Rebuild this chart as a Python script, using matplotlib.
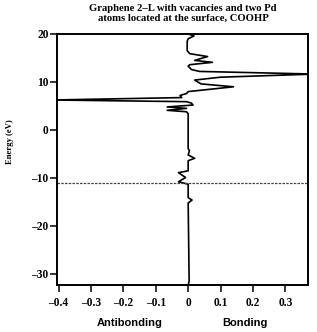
import matplotlib
matplotlib.use("Agg")
import matplotlib.pyplot as plt
import numpy as np

# COOHP curve: energy (eV) and COOHP value
energy = [-32.3, -31.5, -15.2, -14.6, -14.1, -12.5, -11.3, -10.8, -9.9, -8.9, -8.5,
          -6.9, -6.4, -5.9, -5.2, -4.3, -3.9, 3.4, 3.8, 4.1, 4.5, 4.8, 5.2, 5.6,
          5.9, 6.25, 6.75, 7.2, 7.6, 8.0, 9.0, 9.6, 10.4, 11.0, 11.65, 12.2, 12.6,
          13.3, 13.6, 14.1, 14.5, 14.8, 15.3, 15.9, 16.5, 18.5, 19.0, 19.6, 19.9, 20.0]
coohp = [0.0, 0.003, 0.0, 0.012, 0.0, 0.0, 0.0, -0.03, -0.008, -0.03, 0.0,
         0.0, 0.0, 0.02, 0.0, 0.004, 0.0, 0.0, -0.005, -0.065, -0.005, -0.065, 0.015, 0.01,
         -0.005, -0.42, -0.02, -0.025, -0.005, 0.0, 0.14, 0.04, 0.02, 0.10, 0.39, 0.035, 0.01,
         0.0, 0.005, 0.075, 0.02, 0.035, 0.06, 0.005, -0.003, -0.003, 0.0, 0.018, 0.005, 0.0]

fermi_level = -11.0
xticks = [-0.4, -0.3, -0.2, -0.1, 0.0, 0.1, 0.2, 0.3]
xticklabels = ["\u20130.4", "\u20130.3", "\u20130.2", "\u20130.1", "0", "0.1", "0.2", "0.3"]
yticks = [-30, -20, -10, 0, 10, 20]
yticklabels = ["\u201330", "\u201320", "\u201310", "0", "10", "20"]
title = "Graphene 2\u2013L with vacancies and two Pd\natoms located at the surface, COOHP"

fig = plt.figure(figsize=(3.17, 3.32), dpi=100)
ax = fig.add_axes([57/317, 1-285/332, (308-57)/317, (285-34)/332])

ax.plot(coohp, energy, color="black", lw=1.2)
ax.axhline(fermi_level, color="#444444", lw=0.9, ls=(0, (2, 1)))

ax.set_xlim(-0.405, 0.37)
ax.set_ylim(-32.3, 20)
ax.set_xticks(xticks)
ax.set_xticklabels(xticklabels)
ax.set_yticks(yticks)
ax.set_yticklabels(yticklabels)
for lab in ax.get_xticklabels() + ax.get_yticklabels():
    lab.set_family("Liberation Serif")
    lab.set_fontweight("bold")
    lab.set_fontsize(8.3)
ax.tick_params(direction="out", length=5, width=1.1)
ax.tick_params(axis="y", pad=1)
ax.tick_params(axis="x", pad=3.5)
for s in ax.spines.values():
    s.set_linewidth(1.4)

fig.text(183/317, 1-13.5/332, title, ha="center", va="center",
         family="Liberation Serif", fontweight="bold", fontsize=7.7, linespacing=1.15)
fig.text(10/317, 1-142/332, "Energy (eV)", rotation=90, ha="center", va="center",
         family="Liberation Serif", fontweight="bold", fontsize=6.2)
fig.text(130/317, 1-323/332, "Antibonding", ha="center", va="center",
         family="Liberation Sans", fontweight="bold", fontsize=8)
fig.text(245/317, 1-323/332, "Bonding", ha="center", va="center",
         family="Liberation Sans", fontweight="bold", fontsize=8)

fig.savefig("out.png", dpi=100)
